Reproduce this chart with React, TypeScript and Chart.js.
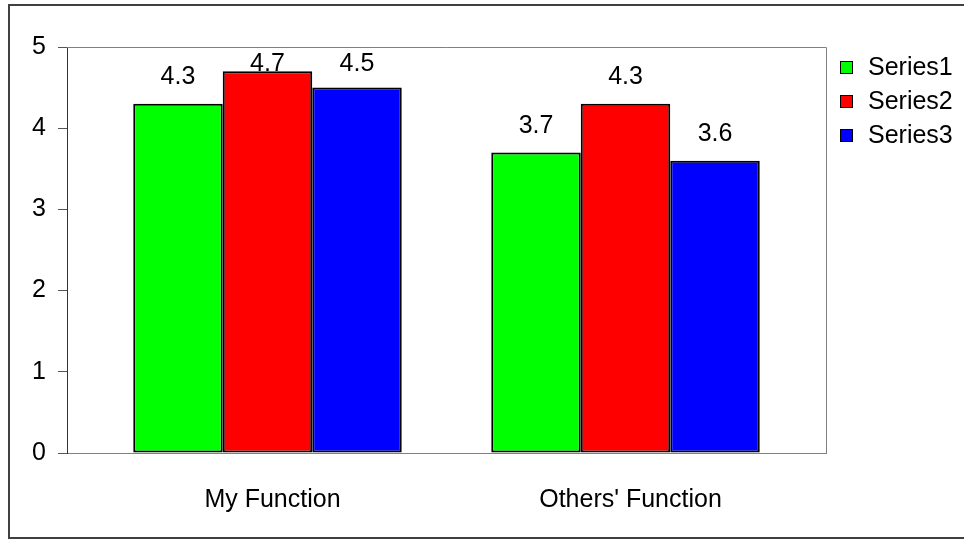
import React, { useEffect, useRef } from 'react';
import { Chart, registerables } from 'chart.js';

Chart.register(...registerables);

// ---- data ----
const categories = ['My Function', "Others' Function"];
const seriesNames = ['Series1', 'Series2', 'Series3'];
const series1 = [4.3, 3.7];
const series2 = [4.7, 4.3];
const series3 = [4.5, 3.6];
const seriesColors = ['#00FF00', '#FF0000', '#0000FF'];
const yTicks = [0, 1, 2, 3, 4, 5];

const FONT_FAMILY = "'Liberation Sans', Arial, sans-serif";
const FONT_SIZE = 25;

const CANVAS_W = 954;
const CANVAS_H = 531;

const framePlugin = {
  id: 'plotFrame',
  beforeDatasetsDraw(chart: any) {
    const { ctx, chartArea } = chart;
    ctx.save();
    ctx.strokeStyle = '#808080';
    ctx.lineWidth = 1;
    ctx.beginPath();
    ctx.moveTo(chartArea.left, Math.round(chartArea.top) + 0.5);
    ctx.lineTo(Math.round(chartArea.right) + 0.5, Math.round(chartArea.top) + 0.5);
    ctx.lineTo(Math.round(chartArea.right) + 0.5, chartArea.bottom);
    ctx.stroke();
    ctx.restore();
  },
};

const valueLabelPlugin = {
  id: 'valueLabels',
  afterDatasetsDraw(chart: any) {
    const { ctx, chartArea } = chart;
    ctx.save();
    ctx.font = `${FONT_SIZE}px ${FONT_FAMILY}`;
    ctx.fillStyle = '#000';
    ctx.textAlign = 'center';
    ctx.textBaseline = 'alphabetic';
    chart.data.datasets.forEach((ds: any, di: number) => {
      const meta = chart.getDatasetMeta(di);
      meta.data.forEach((el: any, i: number) => {
        const v = ds.data[i].y;
        const base = Math.max(el.y - 20, chartArea.top + 24);
        ctx.fillText(v.toFixed(1), el.x, base);
      });
    });
    ctx.restore();
  },
};

const legendPlugin = {
  id: 'sideLegend',
  afterDraw(chart: any) {
    const { ctx, chartArea } = chart;
    ctx.save();
    ctx.font = `${FONT_SIZE}px ${FONT_FAMILY}`;
    ctx.textAlign = 'left';
    ctx.textBaseline = 'middle';
    chart.data.datasets.forEach((ds: any, i: number) => {
      const bx = Math.round(chartArea.right + 14);
      const by = Math.round(chartArea.top + 14 + i * 34);
      ctx.fillStyle = ds.backgroundColor;
      ctx.fillRect(bx, by, 13, 13);
      ctx.strokeStyle = '#000';
      ctx.lineWidth = 1;
      ctx.strokeRect(bx + 0.5, by + 0.5, 12, 12);
      ctx.fillStyle = '#000';
      ctx.fillText(ds.label, bx + 28, by + 7);
    });
    ctx.restore();
  },
};

export default function App() {
  const canvasRef = useRef<HTMLCanvasElement | null>(null);

  useEffect(() => {
    if (!canvasRef.current) return;
    const allSeries = [series1, series2, series3];
    const font = { family: FONT_FAMILY, size: FONT_SIZE };
    const chart = new Chart(canvasRef.current, {
      type: 'bar',
      data: {
        datasets: allSeries.map((vals, si) => ({
          label: seriesNames[si],
          data: vals.map((v, i) => ({ x: i, y: v })),
          backgroundColor: seriesColors[si],
          borderColor: '#000',
          borderWidth: 2,
          borderSkipped: false,
          categoryPercentage: 0.75,
          barPercentage: 1,
        })),
      },
      options: {
        responsive: false,
        animation: false,
        events: [],
        devicePixelRatio: 1,
        layout: { padding: { left: 17, right: 138, top: 41, bottom: 4 } },
        plugins: {
          legend: { display: false },
          tooltip: { enabled: false },
          title: { display: false },
        },
        scales: {
          x: {
            type: 'linear',
            min: -0.56,
            max: 1.56,
            offset: false,
            afterBuildTicks: (s: any) => {
              s.ticks = categories.map((_, i) => ({ value: i }));
            },
            afterFit: (s: any) => {
              s.height = 80;
            },
            ticks: {
              callback: (v: any) => categories[v] ?? '',
              autoSkip: false,
              maxRotation: 0,
              padding: 32,
              labelOffset: 5,
              font,
              color: '#000',
            },
            grid: { display: false, drawTicks: false },
            border: { display: true, color: '#808080', width: 1 },
          },
          y: {
            min: yTicks[0],
            max: yTicks[yTicks.length - 1],
            afterFit: (s: any) => {
              s.width = 40;
            },
            ticks: { stepSize: 1, font, color: '#000', padding: 12 },
            grid: { drawOnChartArea: false, drawTicks: true, tickLength: 9, color: '#555' },
            border: { display: true, color: '#333', width: 1 },
          },
        },
      },
      plugins: [framePlugin, valueLabelPlugin, legendPlugin],
    } as any);
    return () => chart.destroy();
  }, []);

  return (
    <div
      style={{
        position: 'absolute',
        left: 8,
        top: 4,
        width: 956,
        height: 535,
        boxSizing: 'border-box',
        borderTop: '2px solid #404040',
        borderLeft: '2px solid #404040',
        borderBottom: '2px solid #404040',
        background: '#fff',
      }}
    >
      <canvas ref={canvasRef} width={CANVAS_W} height={CANVAS_H} style={{ display: 'block' }} />
    </div>
  );
}
